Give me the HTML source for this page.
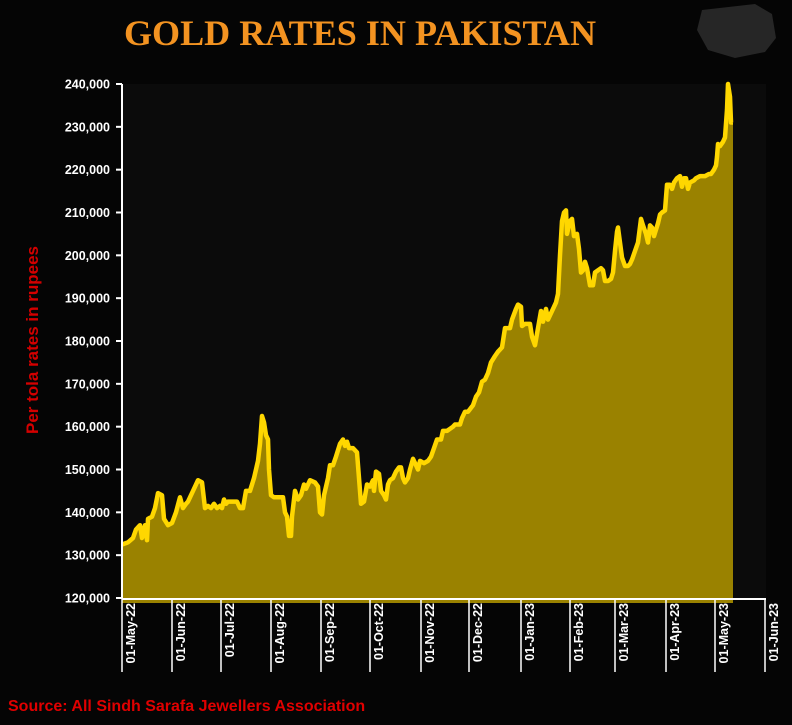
<!DOCTYPE html>
<html><head><meta charset="utf-8"><style>
html,body{margin:0;padding:0;background:#050505;}
svg{display:block;}
text{font-family:"Liberation Sans",sans-serif;}
</style></head><body>
<svg id="s" width="792" height="725" viewBox="0 0 792 725" xmlns="http://www.w3.org/2000/svg">
<rect width="792" height="725" fill="#050505"/>
<rect x="122" y="84" width="644" height="514" fill="#0b0b0b"/>
<text x="360" y="45" text-anchor="middle" font-weight="bold" font-size="36" fill="#f39321" textLength="472" lengthAdjust="spacingAndGlyphs" style="font-family:'Liberation Serif',serif">GOLD RATES IN PAKISTAN</text>
<g fill="#262626">
<path d="M702 10 L755 4 L772 14 L776 38 L765 52 L735 58 L708 50 L697 30 Z"/>
</g>
<text transform="translate(38,340) rotate(-90)" text-anchor="middle" font-weight="bold" font-size="17" fill="#d40000">Per tola rates in rupees</text>
<text x="8" y="711" font-weight="bold" font-size="16" fill="#e00000">Source: All Sindh Sarafa Jewellers Association</text>
<g id="g"></g>
</svg>
<script>
var d=[122,132.5,128,133,133,134,136,136,140,137,142,134,145,137,147,133.5,148,138.5,152,139,155,141,158,144.5,162,144,164,138.5,168,137,172,137.5,176,140,180,143.5,183,141,186,142,188,142.5,193,145,198,147.5,202,147,205,141,208,141.5,211,141,214,142,217,141,220,141.5,222,141,224,143,226,142,228,142.5,232,142.5,237,142.5,240,141,243,141,246,145,250,145,254,148,258,152,260,156,262,162.5,264,161,266,158,268,157,269,150,271,144,274,143.5,278,143.5,283,143.5,285,140,287,139,289,134.5,291,134.5,292,139,295,145,298,143,301,144,304,146.5,306,145.5,310,147.5,315,147,318,146,320,140,322,139.5,324,144,328,148,330,151,333,151,336,153,340,156,343,157,345,155.5,347,156.5,349,155,353,155,357,154,359,148,361,142,364,142.5,367,146.5,370,146,373,147.5,374,145,376,149.5,379,149,381,145,384,144,386,143,388,146.5,390,147.5,393,148,396,149.5,399,150.5,401,150.5,403,148,405,147,408,148,410,150,413,152.5,416,151,418,150,420,152,424,151.5,428,152,431,153,434,155,437,157,441,157,443,159,447,159,450,159.5,453,160,455,160.5,460,160.5,462,162,465,163.5,468,163.5,473,165,476,167,479,168,482,170.5,485,171,488,172.5,491,175,495,176.5,498,177.5,502,178.5,505,183,510,183,512,185,516,187.5,518,188.5,521,188,522,183.5,525,184,530,184,532,181,535,179,538,183,541,187,543,184.5,546,187.5,548,185,550,186,553,187.5,556,189,558,191,560,200,562,208,564,210,566,210.5,567,205,570,208,572,208.5,574,204.5,577,205,579,201.5,581,196,583,196.5,585,198.5,587,197,590,193,593,193,595,196,598,196.5,601,197,603,196.5,605,194,608,194,611,194.5,613,196,615,201,617,205.5,618,206.5,620,203,622,199.5,625,197.5,628,197.5,630,198,632,199,635,201,638,203,641,208.5,643,207,646,205,648,203,650,207,652,206.5,654,204.5,656,206,658,207.5,660,209.5,662,210,665,210.5,667,216.5,670,216.5,672,215.5,674,217,677,218,680,218.5,682,216,684,218,686,218,688,215.5,690,217,694,217.5,696,218,700,218.5,705,218.5,709,219,711,219,714,220,716,221,717,223,718,226,720,225.5,723,226.5,725,227.5,727,234,728,240,730,237,731,231,733,231];
function Y(v){return 598-(v-120)/120*514;}
var pts=[];for(var i=0;i<d.length;i+=2)pts.push(d[i]+","+Y(d[i+1]).toFixed(1));
var h='';
h+='<polygon points="122,603 '+pts.join(" ")+' 733,603" fill="#9a8200"/>';
h+='<polyline points="'+pts.join(" ")+'" fill="none" stroke="#ffd700" stroke-width="4.5" stroke-linejoin="round"/>';
h+='<line x1="122" y1="599" x2="766" y2="599" stroke="#fff" stroke-width="2"/>';
h+='<line x1="122" y1="84" x2="122" y2="599" stroke="#fff" stroke-width="2"/>';
for(var v=120;v<=240;v+=10){var y=Y(v);h+='<line x1="116" y1="'+y+'" x2="122" y2="'+y+'" stroke="#fff" stroke-width="2"/>';
h+='<text x="110" y="'+(y+4.5)+'" text-anchor="end" font-weight="bold" font-size="12.5" fill="#fff">'+v+',000</text>';}
var xs=[122,172,221,271,321,370,421,469,521,570,615,666,715,765];
var lb=["01-May-22","01-Jun-22","01-Jul-22","01-Aug-22","01-Sep-22","01-Oct-22","01-Nov-22","01-Dec-22","01-Jan-23","01-Feb-23","01-Mar-23","01-Apr-23","01-May-23","01-Jun-23"];
for(var i=0;i<xs.length;i++){h+='<line x1="'+xs[i]+'" y1="599" x2="'+xs[i]+'" y2="672" stroke="#fff" stroke-width="1.5"/>';
h+='<text transform="translate('+(xs[i]+13)+',603) rotate(-90)" text-anchor="end" font-weight="bold" font-size="12.5" fill="#fff">'+lb[i]+'</text>';}
document.getElementById('g').innerHTML=h;
</script>
</body></html>
